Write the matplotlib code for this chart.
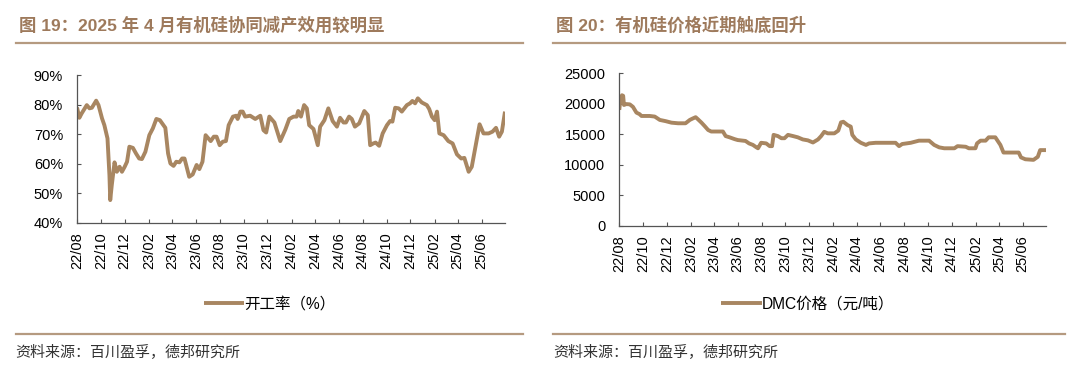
import pandas as pd
import matplotlib
matplotlib.use('Agg')
import matplotlib.pyplot as plt
import matplotlib.dates as mdates
from matplotlib.ticker import MultipleLocator, FuncFormatter

# 开工率 (%)
rate_dates = [
    '2022-08-01', '2022-08-07', '2022-08-13', '2022-08-26', '2022-09-02', '2022-09-08',
    '2022-09-19', '2022-09-25', '2022-10-04', '2022-10-10', '2022-10-18', '2022-10-23',
    '2022-10-25', '2022-10-29', '2022-11-05', '2022-11-11', '2022-11-18', '2022-11-24',
    '2022-12-01', '2022-12-07', '2022-12-13', '2022-12-22', '2022-12-30', '2023-01-07',
    '2023-01-14', '2023-01-23', '2023-02-02', '2023-02-11', '2023-02-20', '2023-03-01',
    '2023-03-15', '2023-03-22', '2023-03-28', '2023-04-05', '2023-04-12', '2023-04-20',
    '2023-04-27', '2023-05-03', '2023-05-15', '2023-05-24', '2023-06-03', '2023-06-10',
    '2023-06-18', '2023-06-26', '2023-07-09', '2023-07-17', '2023-07-24', '2023-08-01',
    '2023-08-09', '2023-08-17', '2023-08-24', '2023-09-04', '2023-09-12', '2023-09-16',
    '2023-09-23', '2023-09-29', '2023-10-05', '2023-10-18', '2023-10-31', '2023-11-13',
    '2023-11-21', '2023-11-28', '2023-12-06', '2023-12-19', '2024-01-03', '2024-01-16',
    '2024-01-26', '2024-02-06', '2024-02-14', '2024-02-18', '2024-02-25', '2024-03-04',
    '2024-03-11', '2024-03-17', '2024-03-28', '2024-04-08', '2024-04-14', '2024-04-25',
    '2024-05-05', '2024-05-16', '2024-05-27', '2024-06-04', '2024-06-13', '2024-06-19',
    '2024-06-27', '2024-07-04', '2024-07-12', '2024-07-23', '2024-08-05', '2024-08-14',
    '2024-08-20', '2024-08-28', '2024-09-03', '2024-09-12', '2024-09-21', '2024-10-02',
    '2024-10-10', '2024-10-16', '2024-10-23', '2024-11-01', '2024-11-09', '2024-11-22',
    '2024-11-30', '2024-12-06', '2024-12-13', '2024-12-20', '2024-12-30', '2025-01-12',
    '2025-01-18', '2025-01-25', '2025-02-01', '2025-02-07', '2025-02-13', '2025-02-24',
    '2025-03-08', '2025-03-19', '2025-03-30', '2025-04-10', '2025-04-18', '2025-04-29',
    '2025-05-07', '2025-05-17', '2025-05-27', '2025-06-06', '2025-06-19', '2025-06-29',
    '2025-07-08', '2025-07-16', '2025-07-23', '2025-07-31',
]
rate_values = [
    79.0, 75.5, 77.0, 79.8, 78.7, 78.9,
    81.3, 79.8, 75.3, 73.0, 68.5, 56.0,
    47.6, 52.7, 60.4, 57.2, 58.9, 57.2,
    58.9, 60.6, 65.7, 65.3, 63.4, 61.7,
    61.5, 64.0, 69.6, 71.9, 75.1, 74.7,
    72.1, 63.4, 60.0, 59.2, 60.6, 60.4,
    61.7, 61.7, 55.5, 56.3, 59.5, 58.1,
    60.6, 69.6, 67.6, 69.1, 69.1, 66.2,
    67.4, 67.6, 73.0, 75.9, 76.2, 75.1,
    77.6, 77.6, 75.9, 76.2, 75.1, 76.2,
    71.3, 70.5, 75.9, 73.9, 67.6, 71.5,
    75.1, 75.9, 75.9, 77.8, 75.9, 79.8,
    78.7, 73.0, 71.7, 66.2, 72.5, 74.7,
    78.7, 74.4, 72.5, 75.5, 73.9, 73.9,
    75.9, 75.1, 72.5, 73.6, 77.8, 76.4,
    66.2, 66.8, 67.1, 66.0, 70.2, 73.0,
    74.4, 74.2, 78.9, 78.7, 77.6, 79.8,
    80.4, 81.2, 80.4, 82.1, 80.7, 79.8,
    78.5, 75.9, 74.7, 77.6, 70.2, 69.6,
    67.6, 66.8, 63.1, 61.7, 61.9, 57.2,
    58.9, 66.2, 73.3, 70.2, 70.2, 70.8,
    72.1, 69.1, 70.8, 77.6,
]

# DMC价格 (元/吨)
dmc_dates = [
    '2022-08-01', '2022-08-04', '2022-08-08', '2022-08-11', '2022-08-13', '2022-08-19',
    '2022-08-28', '2022-09-05', '2022-09-14', '2022-09-22', '2022-09-27', '2022-10-18',
    '2022-10-31', '2022-11-13', '2022-11-28', '2022-12-13', '2022-12-30', '2023-01-18',
    '2023-01-29', '2023-02-06', '2023-02-13', '2023-02-19', '2023-02-28', '2023-03-08',
    '2023-03-17', '2023-03-25', '2023-04-24', '2023-05-01', '2023-05-11', '2023-05-24',
    '2023-06-01', '2023-06-21', '2023-06-30', '2023-07-10', '2023-07-19', '2023-07-23',
    '2023-07-31', '2023-08-13', '2023-08-22', '2023-08-28', '2023-09-01', '2023-09-12',
    '2023-09-21', '2023-09-29', '2023-10-08', '2023-10-21', '2023-11-02', '2023-11-15',
    '2023-11-28', '2023-12-11', '2023-12-24', '2024-01-01', '2024-01-09', '2024-01-18',
    '2024-02-04', '2024-02-14', '2024-02-21', '2024-02-27', '2024-03-09', '2024-03-17',
    '2024-03-21', '2024-03-30', '2024-04-12', '2024-04-25', '2024-05-03', '2024-05-20',
    '2024-07-10', '2024-07-19', '2024-07-27', '2024-08-18', '2024-09-08', '2024-10-04',
    '2024-10-17', '2024-10-30', '2024-11-12', '2024-12-08', '2024-12-16', '2025-01-06',
    '2025-01-14', '2025-01-31', '2025-02-04', '2025-02-13', '2025-02-26', '2025-03-06',
    '2025-03-23', '2025-04-05', '2025-04-13', '2025-05-22', '2025-05-28', '2025-06-08',
    '2025-06-29', '2025-07-10', '2025-07-16', '2025-07-31',
]
dmc_values = [
    19000, 20700, 21400, 21300, 19800, 19950,
    19900, 19500, 18550, 18300, 18000, 18000,
    17900, 17350, 17150, 16900, 16800, 16800,
    17350, 17600, 17800, 17450, 16900, 16350,
    15700, 15450, 15450, 14700, 14500, 14200,
    14050, 13900, 13500, 13250, 12850, 12700,
    13600, 13500, 13050, 13050, 14900, 14700,
    14350, 14350, 14900, 14700, 14500, 14150,
    14000, 13650, 14150, 14700, 15400, 15150,
    15150, 15600, 16950, 17050, 16500, 16250,
    14900, 14150, 13600, 13250, 13500, 13600,
    13600, 13050, 13400, 13600, 13950, 13950,
    13250, 12850, 12700, 12700, 13050, 12950,
    12700, 12700, 13500, 13950, 13950, 14500,
    14500, 13250, 12000, 12000, 11200, 10900,
    10800, 11300, 12400, 12400,
]

titles = ['图 19：2025 年 4 月有机硅协同减产效用较明显', '图 20：有机硅价格近期触底回升']
labels = ['开工率（%）', 'DMC价格（元/吨）']
source = '资料来源：百川盈孚，德邦研究所'

LINE = '#A88661'
BROWN = '#9E7A5C'
RULE = '#B59A80'

plt.rcParams['font.family'] = ['Liberation Sans', 'Noto Sans CJK SC']


def style_axis(ax):
    for s in ['top', 'right']:
        ax.spines[s].set_visible(False)
    for s in ['left', 'bottom']:
        ax.spines[s].set_color('#555555')
        ax.spines[s].set_linewidth(0.9)
    ax.xaxis.set_major_locator(mdates.MonthLocator(bymonth=[2, 4, 6, 8, 10, 12]))
    ax.xaxis.set_major_formatter(mdates.DateFormatter('%y/%m'))
    ax.set_xlim(pd.Timestamp('2022-08-01'), pd.Timestamp('2025-07-31'))
    ax.tick_params(axis='x', direction='in', length=3, width=0.8, color='#555555',
                   labelsize=10.5, rotation=90, pad=7)
    ax.tick_params(axis='y', direction='in', length=3, width=0.8, color='#555555',
                   labelsize=10.5, pad=10)


def main():
    fig = plt.figure(figsize=(10.8, 3.69), dpi=100)

    ax1 = fig.add_axes([0.0713, 0.397, 0.3963, 0.3997])
    ax1.plot(pd.to_datetime(rate_dates), rate_values, color=LINE, lw=2.8,
             solid_joinstyle='round', solid_capstyle='butt', label=labels[0])
    ax1.set_ylim(40, 90)
    ax1.yaxis.set_major_locator(MultipleLocator(10))
    ax1.yaxis.set_major_formatter(FuncFormatter(lambda v, p: '{:d}%'.format(int(round(v)))))
    style_axis(ax1)

    ax2 = fig.add_axes([0.5734, 0.3883, 0.3951, 0.4131])
    ax2.plot(pd.to_datetime(dmc_dates), dmc_values, color=LINE, lw=2.8,
             solid_joinstyle='round', solid_capstyle='butt', label=labels[1])
    ax2.set_ylim(0, 25000)
    ax2.yaxis.set_major_locator(MultipleLocator(5000))
    style_axis(ax2)

    # legends
    fig.legend(handles=ax1.get_lines(), loc='center', bbox_to_anchor=(0.2495, 0.176),
               frameon=False, fontsize=11.2, handlelength=2.6, handletextpad=0.0)
    fig.legend(handles=ax2.get_lines(), loc='center', bbox_to_anchor=(0.7477, 0.176),
               frameon=False, fontsize=11.2, handlelength=2.6, handletextpad=0.0)

    # headers, rules and sources
    for x0, x1, title in [(15.5, 523, titles[0]), (553, 1065, titles[1])]:
        fig.text((x0 + 3.5) / 1080, 0.933, title, color=BROWN, fontsize=12.5,
                 fontweight='bold', ha='left', va='center')
        fig.add_artist(plt.Line2D([x0 / 1080, x1 / 1080], [0.8843, 0.8843],
                                  color=RULE, lw=1.6))
        fig.add_artist(plt.Line2D([x0 / 1080, x1 / 1080], [0.0957, 0.0957],
                                  color=RULE, lw=1.6))
        fig.text(x0 / 1080, 0.0445, source, color='#333333', fontsize=10.8,
                 ha='left', va='center')

    fig.savefig('out.png', dpi=100)


if __name__ == '__main__':
    main()
